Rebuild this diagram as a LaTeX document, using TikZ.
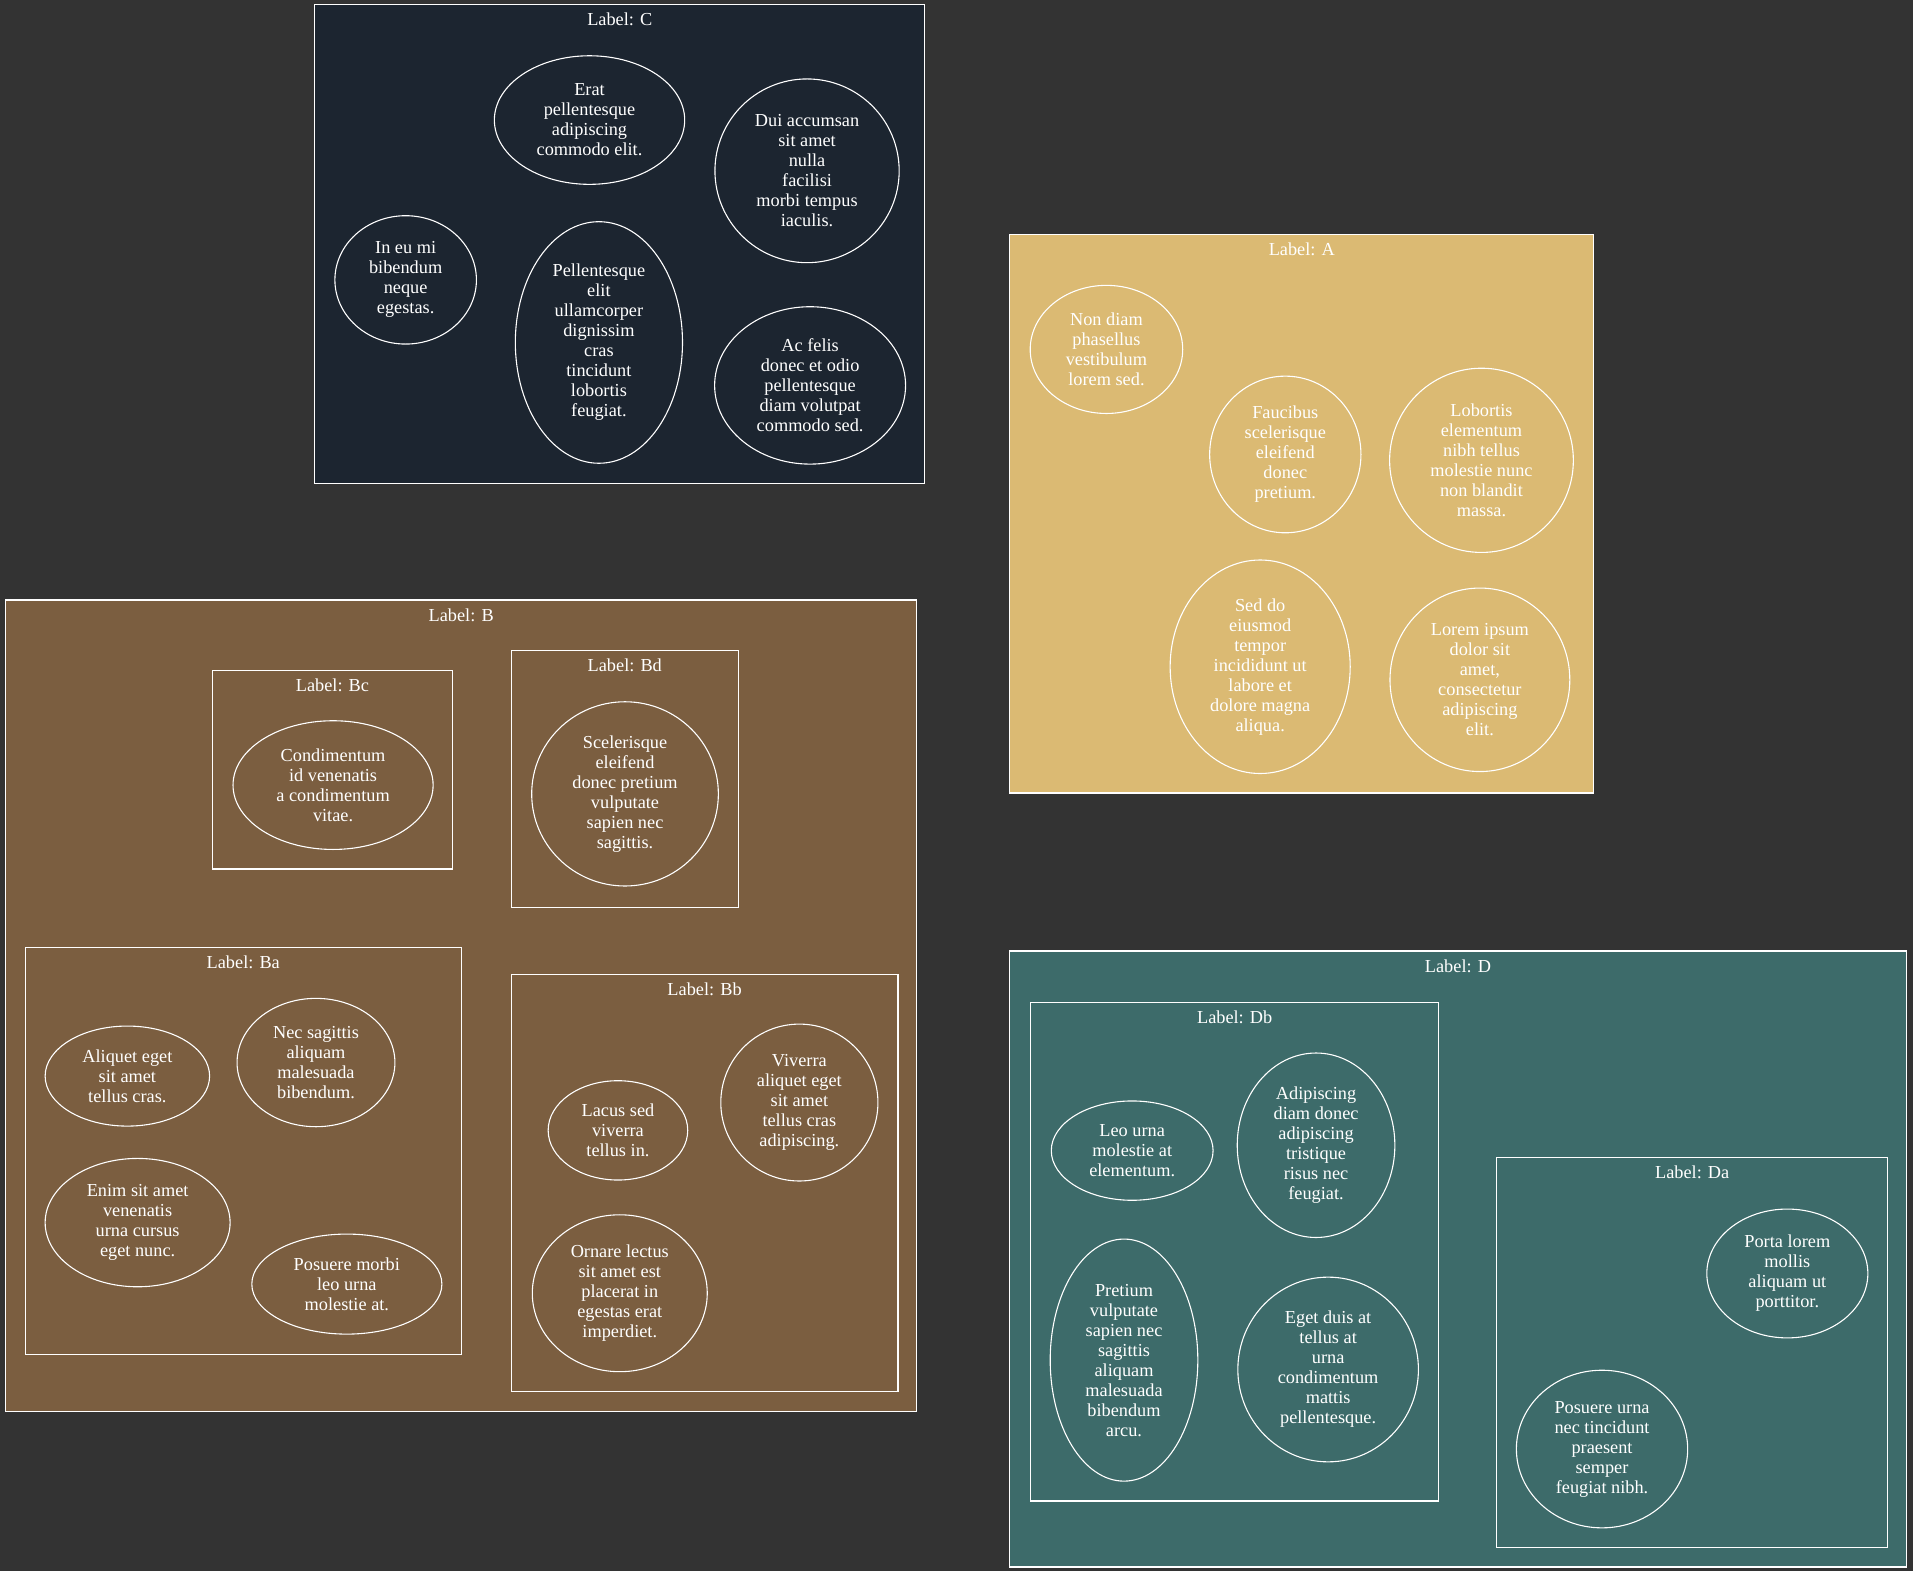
\documentclass[tikz,border=0pt]{standalone}
\usepackage{fontspec}
\setmainfont{Liberation Serif}
\usetikzlibrary{fit,shapes.geometric}
\definecolor{bgc}{RGB}{51,51,51}
\definecolor{cC}{RGB}{28,37,48}
\definecolor{cA}{RGB}{219,186,115}
\definecolor{cB}{RGB}{123,94,64}
\definecolor{cD}{RGB}{61,107,106}
\newcommand{\ellnode}[6]{\node[el, minimum width=#4pt, minimum height=#5pt] (#1) at (#2,#3) {#6};}
\begin{document}
\begin{tikzpicture}[x=1pt,y=-1pt,
  txt/.style={text=white, font=\fontsize{15}{16.4}\selectfont},
  el/.style={txt, ellipse, draw=white, line width=0.9pt, inner sep=0pt, outer sep=0pt, align=center},
  cluster/.style={rectangle, draw=white, line width=0.9pt, inner sep=0pt, outer sep=0pt},
  lbl/.style={txt, anchor=base, inner sep=0pt}]
\fill[bgc] (0,0) rectangle (1568,1288);
\useasboundingbox (0,0) rectangle (1568,1288);
% Cluster C
\node[cluster, fill=cC, fit={(258,4) (758,396)}] (C) {};
\node[lbl] (Clab) at (508,21.3) {Label: C};
\ellnode{c1}{483.2}{98.4}{156}{105.4}{Erat\\pellentesque\\adipiscing\\commodo elit.}
\ellnode{c2}{661.5}{140}{151}{150.6}{Dui accumsan\\sit amet\\nulla\\facilisi\\morbi tempus\\iaculis.}
\ellnode{c3}{332.5}{229.4}{116}{105.2}{In eu mi\\bibendum\\neque\\egestas.}
\ellnode{c4}{490.9}{280.7}{137}{198}{Pellentesque\\elit\\ullamcorper\\dignissim\\cras\\tincidunt\\lobortis\\feugiat.}
\ellnode{c5}{664}{315.9}{156.5}{129}{Ac felis\\donec et odio\\pellentesque\\diam volutpat\\commodo sed.}
% Cluster A
\node[cluster, fill=cA, fit={(827.5,192) (1306,650)}] (A) {};
\node[lbl] (Alab) at (1067,209.3) {Label: A};
\ellnode{a1}{906.9}{286.4}{125}{105}{Non diam\\phasellus\\vestibulum\\lorem sed.}
\ellnode{a2}{1053.5}{372.5}{124}{128.4}{Faucibus\\scelerisque\\eleifend\\donec\\pretium.}
\ellnode{a3}{1214.3}{377.3}{150.6}{151}{Lobortis\\elementum\\nibh tellus\\molestie nunc\\non blandit\\massa.}
\ellnode{a4}{1032.9}{546.5}{147.6}{175}{Sed do\\eiusmod\\tempor\\incididunt ut\\labore et\\dolore magna\\aliqua.}
\ellnode{a5}{1213}{557.2}{147.4}{150.4}{Lorem ipsum\\dolor sit\\amet,\\consectetur\\adipiscing\\elit.}
% Cluster B
\node[cluster, fill=cB, fit={(4.8,491.8) (751.5,1157)}] (B) {};
\node[lbl] (Blab) at (378,509) {Label: B};
\node[cluster, fit={(174.1,549.2) (370.9,712.3)}] (Bc) {};
\node[lbl] (Bclab) at (272.5,566.4) {Label: Bc};
\ellnode{bc1}{273}{643.5}{164}{105.5}{Condimentum\\id venenatis\\a condimentum\\vitae.}
\node[cluster, fit={(419,533.3) (605.2,743.7)}] (Bd) {};
\node[lbl] (Bdlab) at (512.1,550.5) {Label: Bd};
\ellnode{bd1}{512.3}{650.7}{153}{151}{Scelerisque\\eleifend\\donec pretium\\vulputate\\sapien nec\\sagittis.}
\node[cluster, fit={(20.7,776.8) (378.1,1110.1)}] (Ba) {};
\node[lbl] (Balab) at (199.4,794) {Label: Ba};
\ellnode{ba1}{104.4}{882}{134.8}{82}{Aliquet eget\\sit amet\\tellus cras.}
\ellnode{ba2}{259}{870.9}{129.4}{105.2}{Nec sagittis\\aliquam\\malesuada\\bibendum.}
\ellnode{ba3}{112.8}{1002.1}{151.6}{105.2}{Enim sit amet\\venenatis\\urna cursus\\eget nunc.}
\ellnode{ba4}{284.3}{1052.5}{155.8}{82}{Posuere morbi\\leo urna\\molestie at.}
\node[cluster, fit={(419,798.4) (736,1140.7)}] (Bb) {};
\node[lbl] (Bblab) at (577.5,815.6) {Label: Bb};
\ellnode{bb1}{506.5}{926.5}{114.4}{81.4}{Lacus sed\\viverra\\tellus in.}
\ellnode{bb2}{655.2}{903.7}{128.8}{128.6}{Viverra\\aliquet eget\\sit amet\\tellus cras\\adipiscing.}
\ellnode{bb3}{508}{1060}{143.4}{128.6}{Ornare lectus\\sit amet est\\placerat in\\egestas erat\\imperdiet.}
% Cluster D
\node[cluster, fill=cD, fit={(827.5,779.5) (1562.5,1284.4)}] (D) {};
\node[lbl] (Dlab) at (1195,796.7) {Label: D};
\node[cluster, fit={(844.7,821.5) (1179.3,1230.3)}] (Db) {};
\node[lbl] (Dblab) at (1012,838.7) {Label: Db};
\ellnode{db1}{928}{943.1}{132.6}{81.4}{Leo urna\\molestie at\\elementum.}
\ellnode{db2}{1078.7}{938.7}{129.2}{151.2}{Adipiscing\\diam donec\\adipiscing\\tristique\\risus nec\\feugiat.}
\ellnode{db3}{921.3}{1114.8}{121}{198.4}{Pretium\\vulputate\\sapien nec\\sagittis\\aliquam\\malesuada\\bibendum\\arcu.}
\ellnode{db4}{1088.6}{1122.5}{148}{151.4}{Eget duis at\\tellus at\\urna\\condimentum\\mattis\\pellentesque.}
\node[cluster, fit={(1226.7,949) (1547.1,1268.4)}] (Da) {};
\node[lbl] (Dalab) at (1387,966.2) {Label: Da};
\ellnode{da1}{1465}{1043.8}{132}{105.6}{Porta lorem\\mollis\\aliquam ut\\porttitor.}
\ellnode{da2}{1313.1}{1187.7}{140.4}{129.2}{Posuere urna\\nec tincidunt\\praesent\\semper\\feugiat nibh.}
\end{tikzpicture}
\end{document}
